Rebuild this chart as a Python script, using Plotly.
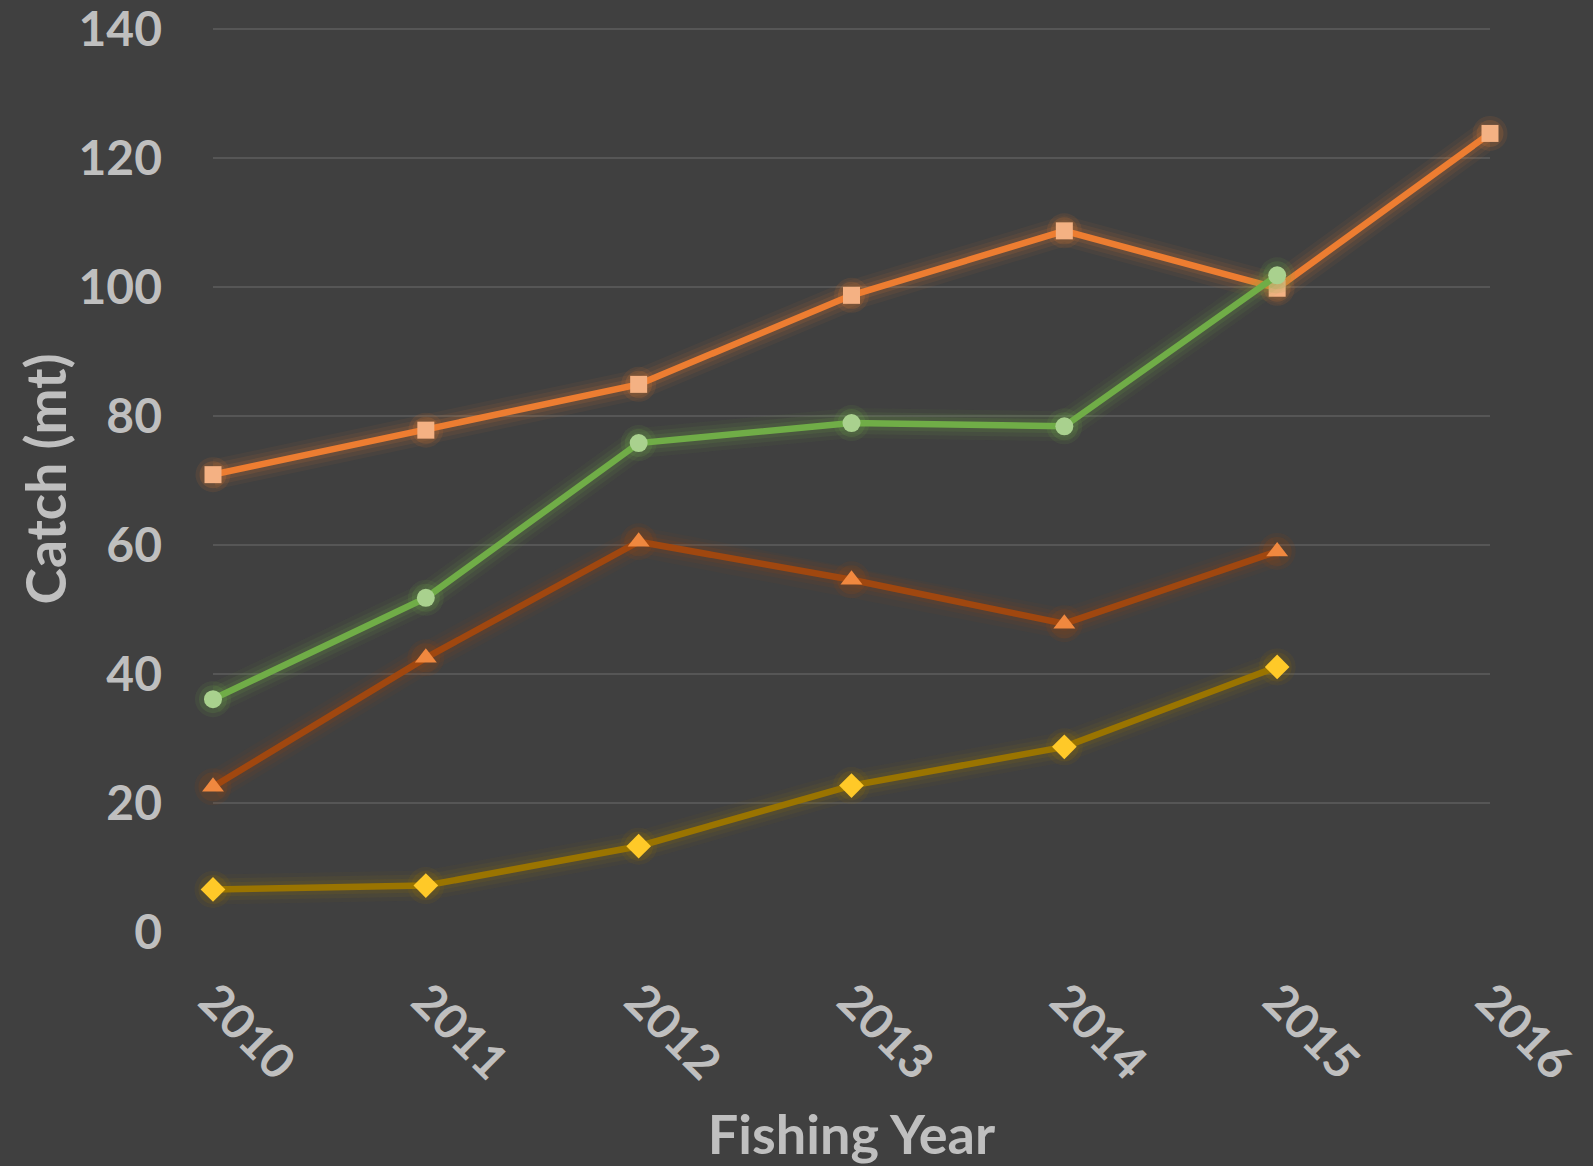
import plotly.graph_objects as go

years = ["2010", "2011", "2012", "2013", "2014", "2015", "2016"]
series_a = [70.9, 77.8, 84.9, 98.7, 108.7, 99.8, 123.8]   # orange squares
series_b = [36.1, 51.8, 75.8, 78.9, 78.4, 101.8]          # green circles
series_c = [22.5, 42.5, 60.5, 54.6, 47.8, 59.0]           # dark orange triangles
series_d = [6.6, 7.2, 13.3, 22.7, 28.7, 41.1]             # yellow diamonds
y_ticks = [0, 20, 40, 60, 80, 100, 120, 140]

styles = [
    (series_a, "#ED7D31", "#F4B183", "square", 17),
    (series_c, "#A0470F", "#F0883F", "triangle-up", 19),
    (series_d, "#9A7400", "#FFC928", "diamond", 19),
    (series_b, "#70AD47", "#A9D18E", "circle", 18),
]

fig = go.Figure()
for vals, lc, mc, sym, ms in styles:
    xs = years[:len(vals)]
    # glow layers
    for w, op in [(30, 0.05), (22, 0.08), (14, 0.12)]:
        fig.add_trace(go.Scatter(
            x=xs, y=vals, mode="lines",
            line=dict(color=lc, width=w), opacity=op, cliponaxis=False,
            hoverinfo="skip", showlegend=False))
    for extra, op in [(18, 0.10), (10, 0.16)]:
        fig.add_trace(go.Scatter(
            x=xs, y=vals, mode="markers", cliponaxis=False,
            marker=dict(color=lc, size=ms + extra, symbol="circle", line=dict(width=0)),
            opacity=op, hoverinfo="skip", showlegend=False))
    fig.add_trace(go.Scatter(
        x=xs, y=vals, mode="lines+markers", cliponaxis=False,
        line=dict(color=lc, width=6.5),
        marker=dict(color=mc, size=ms, symbol=sym, line=dict(width=0)),
        showlegend=False))

font_fam = "Lato, 'Open Sans', sans-serif"
fig.update_layout(
    width=1593, height=1166,
    paper_bgcolor="#404040", plot_bgcolor="#404040",
    margin=dict(l=213, r=103, t=27, b=234, autoexpand=False),
    font=dict(family=font_fam, color="#BFBFBF"),
    xaxis=dict(
        type="category", categoryorder="array", categoryarray=years,
        range=[0, 6], showgrid=False, zeroline=False, showline=False,
        automargin=False, ticklabeloverflow="allow",
        tickangle=45, ticks="", ticklabelstandoff=30,
        tickfont=dict(size=48, family=font_fam, weight="bold", color="#BFBFBF"),
        title=dict(text="Fishing Year", standoff=32,
                   font=dict(size=54, family=font_fam, weight="bold", color="#BFBFBF")),
    ),
    yaxis=dict(
        range=[0, 140.3], tickvals=y_ticks, ticktext=[str(v) for v in y_ticks],
        showgrid=True, gridcolor="#565656", gridwidth=2, automargin=False,
        ticklabeloverflow="allow",
        zeroline=False, showline=False, ticks="", ticklabelstandoff=50,
        tickfont=dict(size=48, family=font_fam, weight="bold", color="#BFBFBF"),
    ),
    annotations=[dict(
        text="Catch (mt)", textangle=-90, showarrow=False,
        xref="paper", yref="paper", x=(44 - 213) / 1277, y=0.5,
        xanchor="center", yanchor="middle",
        font=dict(size=55, family=font_fam, weight="bold", color="#BFBFBF"),
    )],
)

fig.write_html("out.html", config={"displayModeBar": False})
with open("out.html", "r", encoding="utf-8") as f:
    html = f.read()
html = html.replace("<head>", "<head><style>html,body{margin:0;padding:0;background:#404040;}</style>", 1)
with open("out.html", "w", encoding="utf-8") as f:
    f.write(html)
